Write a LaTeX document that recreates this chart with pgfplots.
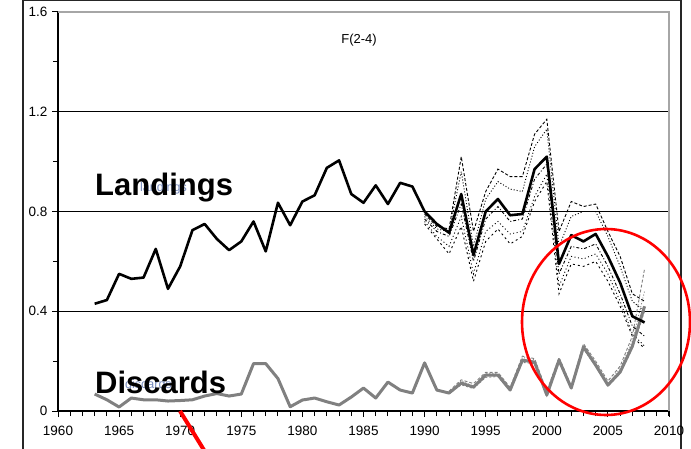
\documentclass[border=0pt]{standalone}
\usepackage{pgfplots}
\usepackage{pgfplotstable}
\pgfplotsset{compat=1.18}
\usepackage{fontspec}
\setmainfont{Liberation Sans}

% fishing mortality F(2-4): landings and discards components
\pgfplotstableread{
year F
1963 0.430
1964 0.445
1965 0.550
1966 0.530
1967 0.535
1968 0.650
1969 0.490
1970 0.580
1971 0.725
1972 0.750
1973 0.690
1974 0.645
1975 0.680
1976 0.760
1977 0.640
1978 0.835
1979 0.745
1980 0.840
1981 0.865
1982 0.975
1983 1.005
1984 0.870
1985 0.835
1986 0.905
1987 0.830
1988 0.915
1989 0.900
1990 0.800
1991 0.750
1992 0.715
1993 0.870
1994 0.625
1995 0.800
1996 0.850
1997 0.785
1998 0.790
1999 0.970
2000 1.020
2001 0.590
2002 0.705
2003 0.680
2004 0.710
2005 0.620
2006 0.515
2007 0.380
2008 0.355
}\landings

\pgfplotstableread{
year F
1963 0.068
1964 0.045
1965 0.016
1966 0.052
1967 0.045
1968 0.045
1969 0.040
1970 0.042
1971 0.045
1972 0.060
1973 0.070
1974 0.060
1975 0.068
1976 0.190
1977 0.190
1978 0.130
1979 0.017
1980 0.044
1981 0.052
1982 0.037
1983 0.024
1984 0.056
1985 0.092
1986 0.052
1987 0.116
1988 0.084
1989 0.072
1990 0.193
1991 0.084
1992 0.072
1993 0.112
1994 0.096
1995 0.144
1996 0.144
1997 0.084
1998 0.204
1999 0.196
2000 0.064
2001 0.204
2002 0.092
2003 0.257
2004 0.184
2005 0.104
2006 0.156
2007 0.260
2008 0.420
}\discards

% retrospective runs, landings
\pgfplotstableread{
year r1 r2 r3 r4 r5
1990 0.79 0.78 0.77 0.76 0.75
1991 0.74 0.73 0.72 0.70 0.69
1992 0.73 0.72 0.70 0.66 0.63
1993 1.02 0.96 0.83 0.78 0.74
1994 0.72 0.66 0.60 0.55 0.52
1995 0.88 0.85 0.77 0.72 0.68
1996 0.97 0.92 0.82 0.76 0.73
1997 0.94 0.89 0.76 0.71 0.67
1998 0.94 0.88 0.77 0.72 0.70
1999 1.11 1.06 0.93 0.86 0.84
2000 1.17 1.13 0.99 0.95 0.92
2001 0.72 0.66 0.55 0.50 0.47
2002 0.84 0.78 0.66 0.62 0.59
2003 0.82 0.80 0.65 0.61 0.58
2004 0.83 0.80 0.67 0.63 0.60
2005 0.72 0.70 0.58 0.55 0.52
2006 0.62 0.58 0.47 0.44 0.42
2007 0.47 0.44 0.34 0.31 0.30
2008 0.44 0.40 0.30 0.26 0.25
}\retroL

% retrospective runs, discards
\pgfplotstableread{
year d1 d2 d3
1992 0.080 0.075 0.070
1993 0.125 0.120 0.105
1994 0.110 0.100 0.090
1995 0.155 0.150 0.135
1996 0.155 0.150 0.138
1997 0.095 0.090 0.080
1998 0.220 0.215 0.195
1999 0.210 0.205 0.190
2000 0.080 0.070 0.060
2001 0.215 0.210 0.195
2002 0.100 0.097 0.088
2003 0.270 0.265 0.250
2004 0.200 0.190 0.178
2005 0.120 0.110 0.100
2006 0.180 0.170 0.150
2007 0.300 0.280 0.250
2008 0.570 0.480 0.400
}\retroD

\definecolor{discgray}{RGB}{128,128,128}
\definecolor{smalllab}{RGB}{120,140,190}

\begin{document}
\begin{tikzpicture}[x=1pt,y=1pt]
\path[use as bounding box] (0,0) rectangle (691,448);
% outer frame of the chart area
\draw[line width=1.5pt, black!85] (23,-5) -- (23,447.3) -- (681,447.3) -- (681,-5);

\begin{axis}[
  at={(58pt,37pt)}, anchor=south west,
  width=611pt, height=399pt, scale only axis,
  xmin=1960, xmax=2010, ymin=0, ymax=1.6,
  axis x line*=bottom, axis y line*=left,
  axis line style={-, line width=1.2pt, black},
  xtick={1960,1965,...,2010},
  xticklabels={1960,1965,1970,1975,1980,1985,1990,1995,2000,2005,2010},
  minor xtick={1960,...,2010},
  ytick={0,0.4,0.8,1.2,1.6},
  yticklabels={0,0.4,0.8,1.2,1.6},
  minor ytick={0.2,0.6,1.0,1.4},
  tick align=outside,
  major tick length=6pt, minor tick length=5pt,
  tick style={black, line width=1pt},
  ymajorgrids, grid style={black, line width=1.2pt},
  ticklabel style={font=\fontsize{13.5}{16}\selectfont, black},
  xticklabel style={yshift=-6pt},
  yticklabel style={xshift=-1pt},
]
% retrospective landings
\addplot[black, line width=0.9pt, dash pattern=on 3pt off 2pt] table[x=year,y=r1] {\retroL};
\addplot[black, line width=0.9pt, dash pattern=on 1pt off 2pt] table[x=year,y=r2] {\retroL};
\addplot[black, line width=0.9pt, dash pattern=on 3pt off 2pt on 1pt off 2pt] table[x=year,y=r3] {\retroL};
\addplot[black, line width=0.9pt, dash pattern=on 1pt off 2.5pt] table[x=year,y=r4] {\retroL};
\addplot[black, line width=0.9pt, dash pattern=on 2pt off 3pt] table[x=year,y=r5] {\retroL};
% retrospective discards
\addplot[discgray, line width=0.9pt, dash pattern=on 3pt off 2pt] table[x=year,y=d1] {\retroD};
\addplot[discgray, line width=0.9pt, dash pattern=on 1pt off 2pt] table[x=year,y=d2] {\retroD};
\addplot[discgray, line width=0.9pt, dash pattern=on 2pt off 2pt] table[x=year,y=d3] {\retroD};
% final assessment
\addplot[discgray, line width=3pt, line join=round] table[x=year,y=F] {\discards};
\addplot[black, line width=2.6pt, line join=round] table[x=year,y=F] {\landings};
\end{axis}

% light top and right borders of the plot area
\draw[gray!70, line width=1.4pt] (58,436) -- (669,436) -- (669,37);

\node[font=\fontsize{13}{15}\selectfont] at (359,408) {F(2-4)};

% series labels
\node[anchor=base west, inner sep=0, text=smalllab, font=\fontsize{12.5}{14}\selectfont] at (140,256) {landings};
\node[anchor=base west, inner sep=0, text=smalllab, font=\fontsize{12.5}{14}\selectfont] at (125,60) {discards};
\node[anchor=base west, inner sep=0, font=\fontsize{31}{36}\selectfont\bfseries] at (95,253) {Landings};
\node[anchor=base west, inner sep=0, font=\fontsize{31}{36}\selectfont\bfseries] at (95,55) {Discards};

% highlight of the recent years
\draw[red, line width=2.6pt] (606,126) ellipse [x radius=84, y radius=93];
\draw[red, line width=4pt] (180,37) -- (207,-7);
\end{tikzpicture}
\end{document}
